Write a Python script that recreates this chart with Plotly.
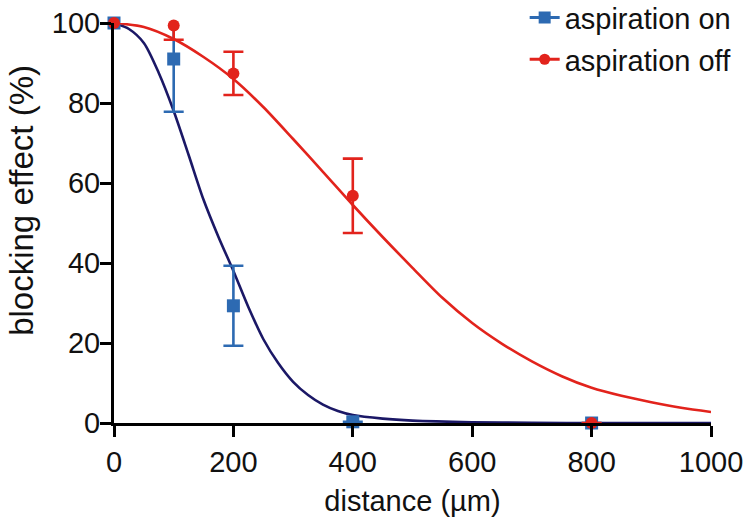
import plotly.graph_objects as go

# measured data
dist = [0, 100, 200, 400, 800]
on_vals = [100, 91, 29.3, 0.3, 0]
on_err = [0, 13.2, 10, 0, 0]
off_vals = [100, 99.4, 87.4, 56.8, 0]
off_err = [0, 3.6, 5.4, 9.3, 0]

# fitted curves
fit_on_x = [0, 25, 50, 75, 100, 125, 150, 175, 200, 225, 250, 275, 300, 325, 350, 375, 400, 450, 500, 600, 700, 800, 1000]
fit_on_y = [100, 98.5, 95, 87.5, 78, 67, 55.8, 46.5, 38, 29, 21, 15, 10.3, 7, 4.6, 3, 2, 1.1, 0.6, 0.2, 0.05, 0, 0]
fit_off_x = [0, 50, 100, 150, 200, 250, 300, 350, 400, 450, 500, 550, 600, 650, 700, 750, 800, 850, 900, 950, 1000]
fit_off_y = [100, 99, 96, 91.5, 86, 79, 71, 62.8, 54.5, 46.5, 38.8, 31.3, 25, 19.8, 15.4, 11.7, 8.8, 6.8, 5.2, 3.8, 2.75]

x_ticks = [0, 200, 400, 600, 800, 1000]
y_ticks = [0, 20, 40, 60, 80, 100]

BLUE = "#2D6AB2"
NAVY = "#1B1866"
RED = "#E2231C"
FONT = "Arial, Liberation Sans, sans-serif"

fig = go.Figure()

fig.add_trace(go.Scatter(x=fit_on_x, y=fit_on_y, mode="lines", line=dict(color=NAVY, width=2.6, shape="spline", smoothing=0.8),
                         showlegend=False, hoverinfo="skip"))
fig.add_trace(go.Scatter(x=fit_off_x, y=fit_off_y, mode="lines", line=dict(color=RED, width=2.6, shape="spline", smoothing=0.8),
                         showlegend=False, hoverinfo="skip"))

fig.add_trace(go.Scatter(x=dist, y=on_vals, mode="markers", cliponaxis=False, showlegend=False,
                         marker=dict(symbol="square", size=13, color=BLUE),
                         error_y=dict(type="data", array=on_err, visible=True, color=BLUE, thickness=2.6, width=10)))
fig.add_trace(go.Scatter(x=dist, y=off_vals, mode="markers", cliponaxis=False, showlegend=False,
                         marker=dict(symbol="circle", size=12, color=RED),
                         error_y=dict(type="data", array=off_err, visible=True, color=RED, thickness=2.6, width=10)))

# legend entries
fig.add_trace(go.Scatter(x=[None], y=[None], mode="lines+markers", name="aspiration on", legendgroup="on",
                         line=dict(color=BLUE, width=3), marker=dict(symbol="square", size=12, color=BLUE)))
fig.add_trace(go.Scatter(x=[None], y=[None], mode="lines+markers", name="aspiration off", legendgroup="off",
                         line=dict(color=RED, width=3), marker=dict(symbol="circle", size=11, color=RED)))

axis_common = dict(showgrid=False, zeroline=False, showline=True, linecolor="black", linewidth=3,
                   ticks="outside", ticklen=11, tickwidth=3, tickcolor="black", automargin=False,
                   tickfont=dict(family=FONT, size=29, color="#111"))

fig.update_layout(
    width=750, height=519,
    margin=dict(l=114, r=39, t=23, b=96, autoexpand=False),
    paper_bgcolor="white", plot_bgcolor="white",
    font=dict(family=FONT, color="#111"),
    xaxis=dict(range=[0, 1000], tickvals=x_ticks,
               title=dict(text="distance (µm)", font=dict(family=FONT, size=29, color="#111"), standoff=14),
               **axis_common),
    yaxis=dict(range=[0, 100], tickvals=y_ticks, **axis_common),
    legend=dict(x=1.043, xanchor="right", y=1.077, yanchor="top", font=dict(family=FONT, size=29, color="#111"),
                bgcolor="rgba(0,0,0,0)", tracegroupgap=1),
    annotations=[dict(text="blocking effect (%)", xref="paper", yref="paper", x=-0.156, y=0.5575,
                      xanchor="center", yanchor="middle", textangle=-90, showarrow=False,
                      font=dict(family=FONT, size=33, color="#111"))],
)
fig.update_yaxes(ticklabelstandoff=-6)

fig.write_html("out.html", post_script="document.body.style.margin='0';",
               config={"displayModeBar": False})
